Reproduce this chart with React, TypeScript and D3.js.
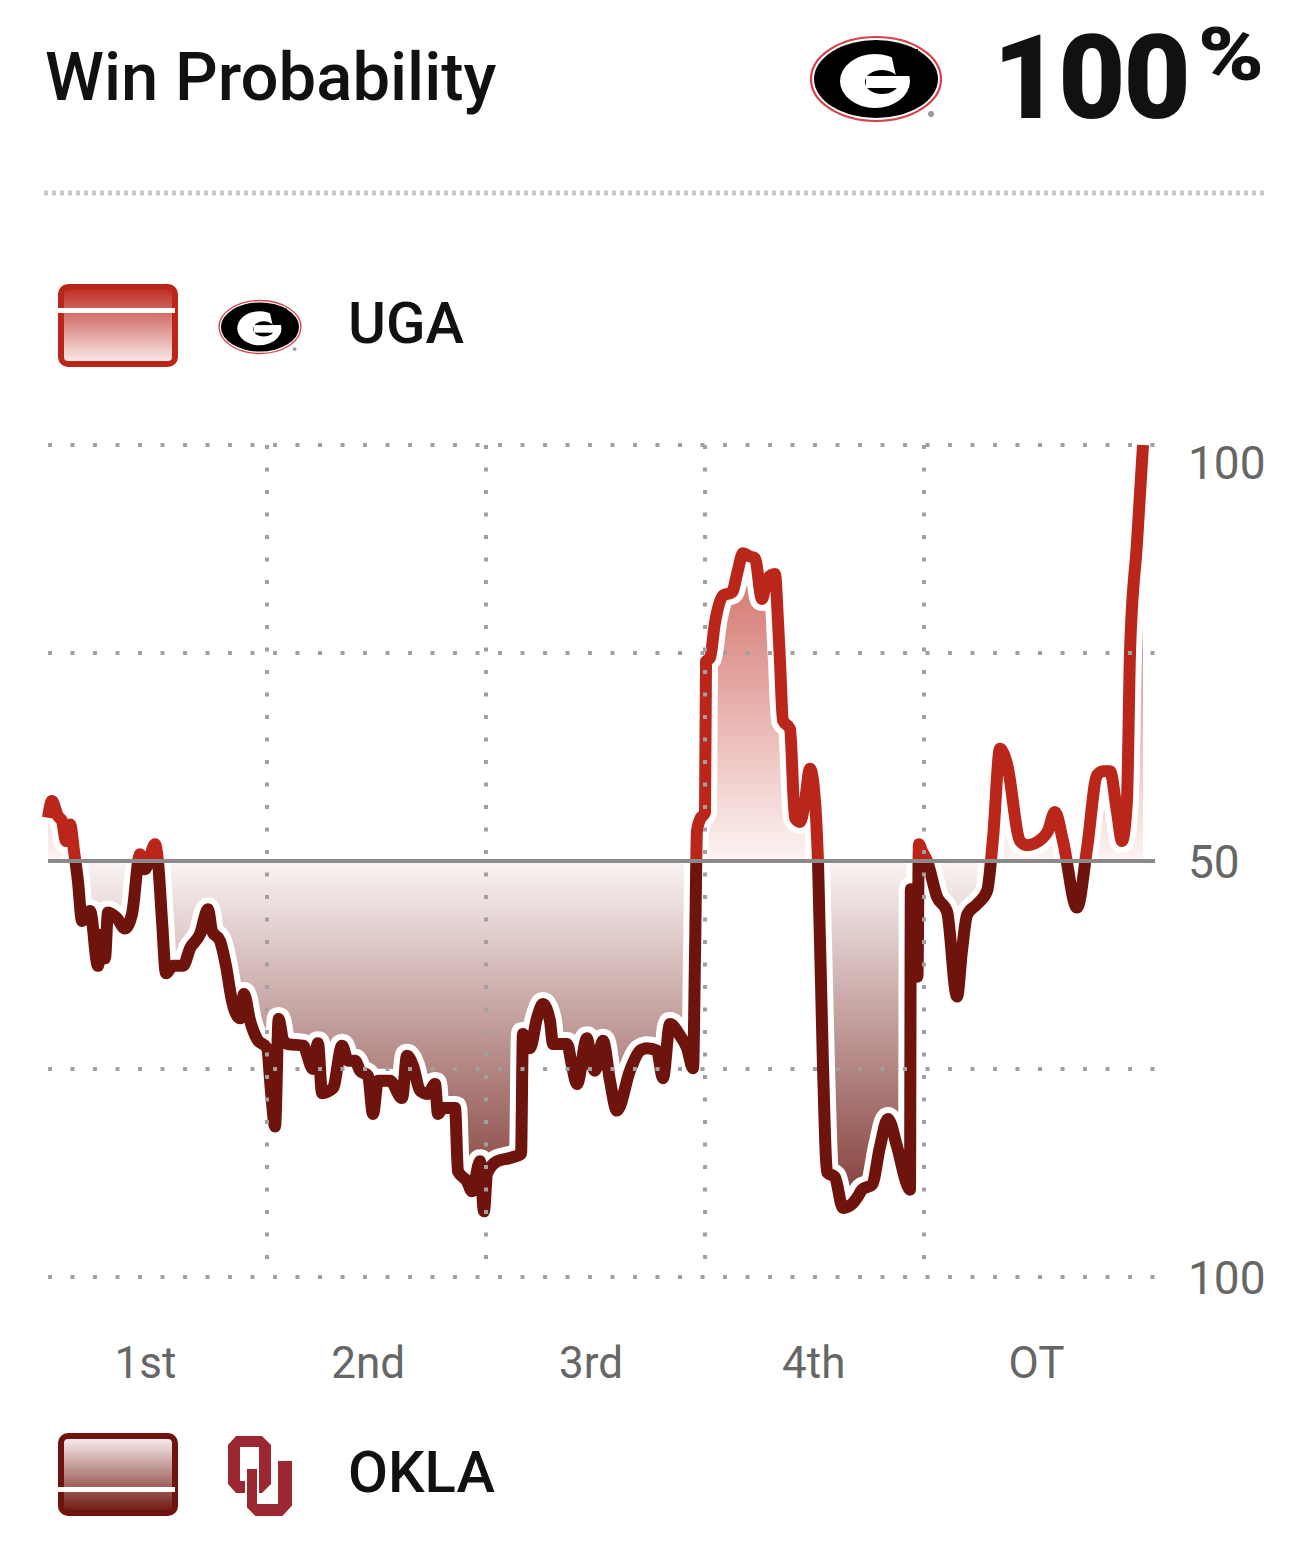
import React from 'react';
import * as d3 from 'd3';

// game clock in minutes (OT drawn as a fifth 15-minute block)
const gameMinute = [
  0, 0.27, 0.68, 0.96, 1.23, 1.51, 1.78, 2.05, 2.33, 2.88, 3.42, 3.7, 3.9, 4.11, 4.73, 5.27, 5.75,
  6.3, 6.64, 6.99, 7.33, 7.53, 7.81, 8.08, 8.56, 9.25, 9.73, 10.41, 10.96, 11.23, 11.78, 12.19, 12.6,
  13.15, 13.42, 13.84, 14.32, 15.0, 15.27, 15.55, 15.8, 16.1, 16.44, 17.47, 18.15, 18.49, 18.77, 19.52,
  20.14, 20.55, 21.03, 21.37, 21.92, 22.26, 22.6, 23.42, 24.25, 24.59, 25.0, 25.48, 26.03, 26.51,
  26.71, 27.05, 27.88, 28.08, 28.7, 29.04, 29.59, 29.86, 30.07, 30.75, 31.64, 32.4, 32.53, 33.01,
  33.49, 33.9, 34.38, 34.59, 35.55, 35.89, 36.23, 36.92, 37.19, 37.47, 38.01, 38.49, 38.97, 39.86,
  40.55, 41.03, 41.71, 42.12, 42.6, 43.29, 43.77, 44.18, 44.32, 44.45, 44.66, 45.0, 45.07, 45.34,
  45.68, 46.23, 46.85, 47.26, 47.6, 48.08, 48.42, 48.9, 49.25, 49.79, 50.0, 50.14, 50.34, 50.82,
  51.16, 51.51, 51.85, 52.19, 52.53, 52.74, 53.08, 53.36, 53.9, 54.45, 55.14, 55.48, 55.75, 56.44,
  56.99, 57.53, 58.15, 58.84, 59.04, 59.1, 59.5, 59.55, 59.65, 59.86, 60.21, 60.89, 61.58, 62.26,
  62.6, 62.95, 63.63, 64.32, 64.73, 65.21, 65.68, 66.58, 67.05, 68.15, 68.49, 68.97, 69.52, 70.48,
  71.16, 71.85, 72.26, 72.74, 73.22, 73.56, 73.9, 74.11, 74.59, 75,
];

// UGA win probability (%)
const ugaWinPct = [
  55.2, 57.2, 55.4, 54.8, 52.4, 54.4, 51.2, 47.6, 42.8, 44.0, 37.4, 41.2, 38.3, 43.8, 43.1, 41.9, 43.6,
  50.8, 49.0, 50.6, 52.0, 50.0, 42.8, 36.5, 37.4, 37.4, 39.5, 41.2, 44.2, 41.6, 40.4, 37.4, 33.2,
  31.1, 34.0, 30.8, 28.6, 27.5, 22.4, 18.1, 31.0, 28.5, 28.0, 27.8, 25.0, 28.1, 22.1, 22.7,
  27.8, 26.0, 26.0, 24.8, 24.2, 19.6, 23.6, 23.6, 21.5, 26.6, 25.4, 22.4, 22.0, 23.2,
  19.6, 20.3, 20.3, 12.7, 11.5, 10.3, 13.9, 7.9, 12.4, 13.9, 14.3, 14.8, 29.2, 27.5,
  31.1, 32.8, 30.8, 28.0, 28.0, 25.4, 23.2, 28.7, 26.0, 24.8, 28.4, 23.6, 20.0, 24.8,
  27.2, 27.5, 27.2, 23.9, 30.4, 29.0, 27.5, 25.1, 39.2, 53.6, 55.0, 55.8, 74.0, 74.4,
  78.6, 81.9, 82.3, 85.0, 87.0, 86.6, 86.4, 81.5, 83.9, 84.5, 78.8, 73.8, 66.9, 65.9,
  55.2, 54.7, 57.2, 61.1, 57.3, 49.9, 25.4, 12.6, 12.0, 8.3, 8.9, 9.7, 10.5, 11.1,
  15.7, 19.0, 15.7, 11.1, 10.5, 46.6, 46.6, 36.1, 52.0, 51.2, 50.0, 45.7, 43.9, 33.7,
  39.2, 43.5, 44.8, 46.4, 52.8, 63.5, 61.7, 52.4, 51.9, 52.8, 53.6, 55.9, 52.4, 44.4,
  51.4, 60.3, 60.8, 60.8, 55.9, 52.4, 57.2, 75.0, 88.3, 100,
];

const periods = ['1st', '2nd', '3rd', '4th', 'OT'];
const periodBreaks = [15, 30, 45, 60];
const gridPct = [100, 75, 25, 0];
const axisPct = [100, 50, 0];
const axisLabels = ['100', '50', '100'];

const UGA_RED = '#bb261b';
const OU_DARK = '#6e140d';
const FONT = 'Roboto, "Noto Sans", sans-serif';

const GLogo = ({ cx, cy, s }: { cx: number; cy: number; s: number }) => (
  <g transform={`translate(${cx},${cy}) scale(${s})`}>
    <ellipse rx={65} ry={42} fill="#fff" stroke="#d9404a" strokeWidth={2.2} />
    <ellipse rx={62} ry={39} fill="#000" />
    <ellipse cx={-1} cy={2} rx={35} ry={27} fill="#fff" />
    <ellipse cx={6} cy={3} rx={17} ry={12} fill="#000" />
    <path d="M14,-30 L42,-30 L42,-3 L20,-3 Z" fill="#000" />
    <rect x={-10} y={-3} width={43} height={12} fill="#fff" />
    <circle cx={55} cy={35} r={3} fill="#999" />
  </g>
);

const OULogo = () => (
  <g fill="#9b2732">
    <path
      fillRule="evenodd"
      d="M236,1436 L262,1436 L271,1445 L271,1484 L262,1493 L236,1493 L228,1484 L228,1445 Z M240,1447 L259,1447 L259,1481 L240,1481 Z"
    />
    <path
      d="M246,1468 L258,1468 L258,1503 L277,1503 L277,1460 L293,1460 L293,1506 L283,1517 L255,1517 L246,1508 Z"
      stroke="#fff"
      strokeWidth={2}
    />
  </g>
);

export default function App() {
  const x = d3.scaleLinear().domain([0, 75]).range([48, 1143]);
  const y = d3.scaleLinear().domain([0, 100]).range([1277, 445]);
  const band = d3.scaleBand().domain(periods).range([34, 1148]);
  const y50 = y(50);

  const pts = gameMinute.map((t, i) => ({ t, p: ugaWinPct[i] }));
  const line = d3
    .line<{ t: number; p: number }>()
    .x((d) => x(d.t))
    .y((d) => y(d.p))
    .curve(d3.curveMonotoneX);
  const area = d3
    .area<{ t: number; p: number }>()
    .x((d) => x(d.t))
    .y0(y50)
    .y1((d) => y(d.p))
    .curve(d3.curveMonotoneX);
  const linePath = line(pts) || '';
  const areaPath = area(pts) || '';

  return (
    <svg
      width={1298}
      height={1548}
      style={{ position: 'absolute', left: 0, top: 0, background: '#fff' }}
      fontFamily={FONT}
    >
      <defs>
        <clipPath id="above">
          <rect x={0} y={0} width={1298} height={y50} />
        </clipPath>
        <clipPath id="below">
          <rect x={0} y={y50} width={1298} height={1548 - y50} />
        </clipPath>
        <linearGradient id="upFill" gradientUnits="userSpaceOnUse" x1={0} y1={y(100)} x2={0} y2={y50}>
          <stop offset="0" stopColor="rgb(195,62,52)" />
          <stop offset="1" stopColor="rgb(252,244,243)" />
        </linearGradient>
        <linearGradient id="downFill" gradientUnits="userSpaceOnUse" x1={0} y1={y50} x2={0} y2={y(0)}>
          <stop offset="0" stopColor="rgb(250,244,244)" />
          <stop offset="1" stopColor="rgb(105,22,16)" />
        </linearGradient>
        <linearGradient id="swUga" x1="0" y1="0" x2="0" y2="1">
          <stop offset="0" stopColor="rgb(188,42,32)" />
          <stop offset="1" stopColor="rgb(251,240,239)" />
        </linearGradient>
        <linearGradient id="swOu" x1="0" y1="0" x2="0" y2="1">
          <stop offset="0" stopColor="rgb(251,243,243)" />
          <stop offset="1" stopColor="rgb(110,20,13)" />
        </linearGradient>
      </defs>

      {/* header */}
      <text x={45} y={100} fontSize={67} fontWeight={500} fill="#111">
        Win Probability
      </text>
      <GLogo cx={876} cy={79} s={1} />
      <text x={993} y={118} fontSize={116} fontWeight={900} fill="#111" letterSpacing={-2}>
        100
      </text>
      <text x={1198} y={80} fontSize={74} fontWeight={900} fill="#111" textLength={66} lengthAdjust="spacingAndGlyphs">
        %
      </text>
      <line x1={44} x2={1267} y1={193} y2={193} stroke="#c8c8c8" strokeWidth={5} strokeDasharray="4 4" />

      {/* UGA legend */}
      <rect x={61} y={287} width={114} height={77} rx={7} fill="url(#swUga)" stroke={UGA_RED} strokeWidth={6} />
      <rect x={58} y={308} width={117} height={5} fill="#fff" />
      <GLogo cx={260} cy={327} s={0.63} />
      <text x={348} y={343} fontSize={58} fontWeight={500} fill="#111">
        UGA
      </text>

      {/* fills */}
      <path d={areaPath} fill="url(#upFill)" clipPath="url(#above)" />
      <path d={areaPath} fill="url(#downFill)" clipPath="url(#below)" />

      {/* line */}
      <path d={linePath} fill="none" stroke="#fff" strokeWidth={24} strokeLinejoin="round" />
      <path d={linePath} fill="none" stroke={UGA_RED} strokeWidth={12} strokeLinejoin="round" clipPath="url(#above)" />
      <path d={linePath} fill="none" stroke={OU_DARK} strokeWidth={12} strokeLinejoin="round" clipPath="url(#below)" />

      {/* grid on top */}
      {gridPct.map((p) => (
        <line
          key={`h${p}`}
          x1={48}
          x2={1157}
          y1={y(p)}
          y2={y(p)}
          stroke="#a0a0a0"
          strokeWidth={4}
          strokeDasharray="4 18.5"
        />
      ))}
      {periodBreaks.map((t) => (
        <line
          key={`v${t}`}
          x1={x(t)}
          x2={x(t)}
          y1={y(100)}
          y2={y(0) - 18}
          stroke="#a0a0a0"
          strokeWidth={4}
          strokeDasharray="4 18.5"
        />
      ))}
      <line x1={48} x2={1155} y1={y50} y2={y50} stroke="#8a8a8a" strokeWidth={4} />

      {/* axis labels */}
      {axisPct.map((p, i) => (
        <text
          key={`a${p}`}
          x={1188}
          y={p === 100 ? y(p) + 17 : y(p)}
          dy="0.36em"
          fontSize={46}
          fill="#666"
        >
          {axisLabels[i]}
        </text>
      ))}
      {periods.map((q) => (
        <text
          key={q}
          x={(band(q) || 0) + band.bandwidth() / 2}
          y={1378}
          textAnchor="middle"
          fontSize={44}
          fill="#666"
        >
          {q}
        </text>
      ))}

      {/* OKLA legend */}
      <rect x={61} y={1436} width={114} height={77} rx={7} fill="url(#swOu)" stroke={OU_DARK} strokeWidth={6} />
      <rect x={58} y={1487} width={117} height={5} fill="#fff" />
      <OULogo />
      <text x={348} y={1492} fontSize={58} fontWeight={500} fill="#111">
        OKLA
      </text>
    </svg>
  );
}
